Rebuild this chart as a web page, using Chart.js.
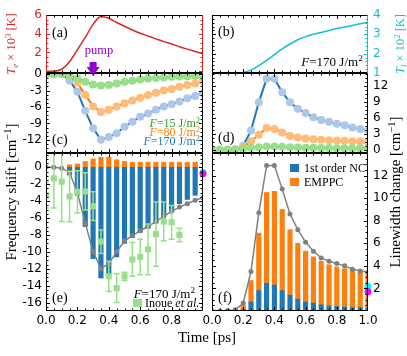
<!DOCTYPE html>
<html>
<head>
<meta charset="utf-8">
<script src="https://cdn.jsdelivr.net/npm/chart.js@4.4.1/dist/chart.umd.min.js"></script>
<style>
  html, body { margin:0; padding:0; background:#fff; }
  #wrap { position:relative; width:407px; height:356px; overflow:hidden; }
  #wrap canvas { position:absolute; left:0; top:0; }
</style>
</head>
<body>
<div id="wrap">
  <canvas id="pa" width="407" height="356"></canvas>
  <canvas id="pb" width="407" height="356"></canvas>
  <canvas id="pc" width="407" height="356"></canvas>
  <canvas id="pd" width="407" height="356"></canvas>
  <canvas id="pe" width="407" height="356"></canvas>
  <canvas id="pf" width="407" height="356"></canvas>
</div>
<script>
/* ---- data (ps, K x1e3 / x1e2, cm^-1) ---- */
const times = [0,0.05,0.1,0.15,0.2,0.25,0.3,0.35,0.4,0.45,0.5,0.55,0.6,0.65,0.7,0.75,0.8,0.85,0.9,0.95,1.0];
const elecTemp = [0,0,0.2,1.0,2.3,3.6,5.0,5.85,5.65,5.2,4.8,4.4,4.05,3.75,3.45,3.15,2.9,2.6,2.35,2.1,1.85];
const lattTemp = [1,1,1,1,1.03,1.15,1.38,1.65,1.95,2.25,2.5,2.72,2.88,3.0,3.1,3.2,3.3,3.38,3.46,3.55,3.63];

const shift15  = [0,0,0,-0.2,-0.8,-1.4,-1.9,-2.1,-2.0,-1.7,-1.4,-1.2,-1.0,-0.8,-0.7,-0.6,-0.5,-0.45,-0.4,-0.35,-0.3];
const shift80  = [0,0,0,-0.3,-1.6,-3.8,-5.9,-6.9,-6.5,-5.9,-5.3,-4.8,-4.3,-3.8,-3.4,-3.0,-2.7,-2.3,-2.0,-1.7,-1.3];
const shift170 = [0,0,0,-1.2,-3.2,-6.7,-9.9,-12.0,-11.5,-10.8,-9.6,-8.7,-7.8,-7.2,-6.5,-5.9,-5.5,-5.0,-4.4,-4.0,-3.5];

const width15  = [0,0,0,0,0.2,0.4,0.5,0.6,0.6,0.55,0.5,0.45,0.4,0.4,0.35,0.35,0.3,0.3,0.3,0.3,0.3];
const width80  = [0,0,0,0,0.5,1.6,2.8,4.1,3.9,3.25,2.6,2.3,2.1,2.0,1.9,1.8,1.75,1.7,1.6,1.55,1.5];
const width170 = [0,0,0,0.1,0.75,3.6,8.9,13.3,13.3,10.8,8.9,7.7,6.9,6.1,5.6,5.25,4.9,4.6,4.2,3.9,3.6];

const barTimesE  = [0.15,0.2,0.25,0.3,0.35,0.4,0.45,0.5,0.55,0.6,0.65,0.7,0.75,0.8,0.85,0.9,0.95];
const ncShift    = [-0.9,-3.3,-7.0,-10.8,-13.1,-12.7,-10.6,-9.0,-8.3,-7.7,-7.2,-6.6,-5.8,-5.0,-4.3,-3.8,-3.3];
const emppcShift = [0.3,0.4,0.7,1.0,1.2,1.2,0.9,0.7,0.6,0.6,0.6,0.6,0.6,0.6,0.6,0.6,0.6];
const totalShift = [0,0,-0.1,-0.6,-3.0,-6.6,-10.0,-12.0,-11.4,-10.0,-8.7,-8.1,-7.5,-7.0,-6.4,-5.8,-5.2,-4.7,-4.3,-3.9,-3.6];

const inoueTimes = [0,0.05,0.1,0.15,0.2,0.25,0.3,0.35,0.4,0.45,0.5,0.55,0.6,0.65,0.7,0.75,0.8,0.85];
const inoueShift = [-3.3,-1.3,-1.7,-3.45,-2.9,-2.85,-4.6,-8.8,-12.9,-14.3,-12.9,-10.9,-10.6,-9.7,-7.9,-6.4,-6.5,-8.0];
const inoueErr   = [1.5,3.5,4.7,3.0,2.5,2.2,1.7,1.4,1.8,1.7,0.5,2.0,2.1,3.0,3.8,2.3,2.0,0.8];

const barTimesF  = [0.2,0.25,0.3,0.35,0.4,0.45,0.5,0.55,0.6,0.65,0.7,0.75,0.8,0.85,0.9,0.95,1.0];
const ncWidth    = [0.15,0.8,1.8,2.45,2.3,1.8,1.4,1.05,0.8,0.7,0.55,0.45,0.4,0.35,0.3,0.3,0.25];
const emppcWidth = [0.35,1.9,5.1,8.05,8.3,7.2,5.8,4.95,4.5,4.1,3.85,3.65,3.5,3.4,3.3,3.15,3.1];
const totalWidth = [0,0,0.05,0.1,0.7,3.5,8.7,12.9,12.9,10.8,8.6,7.2,6.1,5.3,4.7,4.4,4.2,4.0,3.7,3.55,3.45];

const refTime = 1.0;
const refShiftCyan = -0.6, refShiftMag = -0.75;
const refWidthCyan = 2.2, refWidthMag = 1.7;
const pumpTime = 0.3;

const xTickVals = [0,0.2,0.4,0.6,0.8,1.0];
const teTicks = [0,2,4,6];
const tlTicks = [1,2,3,4];
const shiftTicksC = [-12,-9,-6,-3,0];
const widthTicksD = [0,3,6,9,12];
const shiftTicksE = [-16,-14,-12,-10,-8,-6,-4,-2,0];
const widthTicksF = [0,2,4,6,8,10,12];

/* ---- look ---- */
const RED = '#d62728', CYAN = '#17becf', BLUE = '#1f77b4', ORANGE = '#ff7f0e', GREEN = '#2ca02c';
const LBLUE = '#aec7e8', LORANGE = '#ffbb78', LGREEN = '#98df8a', GRAY = '#808080';
const MAG = '#ff00ff', AQUA = '#00ffff', PURPLE = '#9400d3';
const SERIF = '"Liberation Serif", "DejaVu Serif", serif';
const tickFont = { family: '"DejaVu Sans", sans-serif', size: 12 };

// panel rectangles (plot areas)
const BOX = {
  pa: { l:46,  r:203, t:15,  b:73 },
  pb: { l:212, r:368, t:15,  b:73 },
  pc: { l:46,  r:203, t:73,  b:153 },
  pd: { l:212, r:368, t:73,  b:153 },
  pe: { l:46,  r:203, t:153, b:311 },
  pf: { l:212, r:368, t:153, b:311 }
};

const FRAME = {
  pa: { xMajor: xTickVals, xMinor: 0.05, yMajor: teTicks, yMinor: 0.5, left: RED, right: RED },
  pb: { xMajor: xTickVals, xMinor: 0.05, yMajor: tlTicks, yMinor: 0.2, right: CYAN },
  pc: { xMajor: xTickVals, xMinor: 0.05, yMajor: shiftTicksC, yMinor: 0.75 },
  pd: { xMajor: xTickVals, xMinor: 0.05, yMajor: widthTicksD, yMinor: 0.75 },
  pe: { xMajor: xTickVals, xMinor: 0.05, yMajor: shiftTicksE, yMinor: 0.5 },
  pf: { xMajor: xTickVals, xMinor: 0.05, yMajor: widthTicksF, yMinor: 0.5 }
};

const pts = (xs, ys) => xs.map((x, i) => ({ x, y: ys[i] }));

// spines + inward ticks on all four sides
const framePlugin = {
  id: 'frame',
  afterDatasetsDraw(chart){
    const o = FRAME[chart.canvas.id];
    const { ctx, chartArea: a } = chart;
    const sx = chart.scales.x, sy = chart.scales.y;
    const l = Math.round(a.left) + 0.5, r = Math.round(a.right) - 0.5;
    const t = Math.round(a.top) + 0.5, b = Math.round(a.bottom) - 0.5;
    const col = side => o[side] || '#000';
    const seg = (x1, y1, x2, y2, c) => {
      ctx.strokeStyle = c; ctx.beginPath(); ctx.moveTo(x1, y1); ctx.lineTo(x2, y2); ctx.stroke();
    };
    const minors = (s, step) => {
      const out = [];
      for(let k = Math.ceil(s.min/step - 1e-6); k*step <= s.max + 1e-6; k++) out.push(k*step);
      return out;
    };
    ctx.save();
    ctx.lineWidth = 1;
    const xs = minors(sx, o.xMinor).map(v => [v, 2]).concat(o.xMajor.map(v => [v, 3.5]));
    xs.forEach(([v, len]) => {
      const p = Math.round(sx.getPixelForValue(v)) + 0.5;
      if(p < l || p > r) return;
      seg(p, b, p, b - len, col('bottom'));
      seg(p, t, p, t + len, col('top'));
    });
    const ys = minors(sy, o.yMinor).map(v => [v, 2]).concat(o.yMajor.map(v => [v, 3.5]));
    ys.forEach(([v, len]) => {
      const p = Math.round(sy.getPixelForValue(v)) + 0.5;
      if(p < t || p > b) return;
      seg(l, p, l + len, p, col('left'));
      seg(r, p, r - len, p, col('right'));
    });
    seg(l, t, r, t, col('top'));
    seg(l, b, r, b, col('bottom'));
    seg(l, t, l, b, col('left'));
    seg(r, t, r, b, col('right'));
    ctx.restore();
  }
};
Chart.register(framePlugin);

// text with italic / sub / sup pieces; y is the vertical middle
function rich(ctx, parts, x, y, size, color, align, rot){
  const fontFor = st => {
    const small = st.includes('_') || st.includes('^');
    return (st.includes('i') ? 'italic ' : '') + (small ? size*0.7 : size) + 'px ' + SERIF;
  };
  ctx.save();
  ctx.translate(x, y);
  if(rot) ctx.rotate(rot);
  ctx.fillStyle = color;
  ctx.textBaseline = 'alphabetic';
  ctx.textAlign = 'left';
  let w = 0;
  parts.forEach(([s, st]) => { ctx.font = fontFor(st); w += ctx.measureText(s).width; });
  let cx = align === 'center' ? -w/2 : align === 'right' ? -w : 0;
  parts.forEach(([s, st]) => {
    ctx.font = fontFor(st);
    const dy = st.includes('^') ? -size*0.38 : st.includes('_') ? size*0.22 : 0;
    ctx.fillText(s, cx, dy + size*0.35);
    cx += ctx.measureText(s).width;
  });
  ctx.restore();
}
const fluence = n => [['F','i'], ['=' + n + ' J/m',''], ['2','^']];

function baseOptions(id, o){
  const box = BOX[id], yw = 36, xh = 22;
  return {
    responsive: false,
    animation: false,
    events: [],
    devicePixelRatio: 1,
    layout: { autoPadding: false, padding: {
      left: box.l - (o.yPos === 'left' ? yw : 0),
      right: 407 - box.r - (o.yPos === 'right' ? yw : 0),
      top: box.t,
      bottom: 356 - box.b - (o.xLabels ? xh : 0)
    }},
    plugins: { legend: { display:false }, tooltip: { enabled:false } },
    scales: {
      x: {
        type: 'linear', min: 0, max: 1, offset: false, stacked: !!o.stacked,
        display: !!o.xLabels,
        grid: { display:false, drawTicks:false }, border: { display:false },
        afterBuildTicks: s => { s.ticks = xTickVals.map(v => ({ value: v })); },
        afterFit: s => { s.height = o.xLabels ? xh : 0; },
        ticks: { font: tickFont, color: '#000', padding: 3, autoSkip: false, maxRotation: 0,
                 callback: o.xCb || (v => v.toFixed(1)) }
      },
      y: {
        type: 'linear', position: o.yPos, min: o.yMin, max: o.yMax, stacked: !!o.stacked,
        grid: { display:false, drawTicks:false }, border: { display:false },
        afterBuildTicks: s => { s.ticks = o.yTicks.map(v => ({ value: v })); },
        afterFit: s => { s.width = yw; },
        ticks: { font: tickFont, color: o.yColor || '#000', padding: o.yPos === 'right' ? 5 : 4,
                 autoSkip: false, callback: o.yCb || (v => String(v)) }
      }
    }
  };
}

const lineSet = (xs, ys, line, face, label) => ({
  type: 'line', label, data: pts(xs, ys), borderColor: line, borderWidth: 2,
  pointRadius: 4, pointBackgroundColor: face, pointBorderWidth: 0
});
const dotSet = (x, y, color, order, stack) => ({
  type: 'line', data: [{ x, y }], showLine: false, pointRadius: 3.5,
  pointBackgroundColor: color, pointBorderWidth: 0, clip: false, order, stack
});

/* (a) electron temperature */
new Chart(document.getElementById('pa'), {
  type: 'line',
  data: { datasets: [{ data: pts(times, elecTemp), borderColor: RED, borderWidth: 1.5,
                       pointRadius: 0, cubicInterpolationMode: 'monotone' }] },
  options: baseOptions('pa', { yPos:'left', yMin:-0.2, yMax:6, yTicks: teTicks, yColor: RED,
                               yCb: v => v === 0 ? '' : String(v) }),
  plugins: [{ id:'notesA', afterDraw(c){
    const ctx = c.ctx, a = c.chartArea;
    rich(ctx, [['(a)','']], a.left + 6, a.top + 17, 14, '#000', 'left');
    const px = c.scales.x.getPixelForValue(pumpTime);
    rich(ctx, [['pump','']], px + 6, 50, 12.5, PURPLE, 'center');
    ctx.save();
    ctx.fillStyle = PURPLE;
    ctx.fillRect(px - 3.5, 62, 7, 5);
    ctx.beginPath(); ctx.moveTo(px - 6.5, 67); ctx.lineTo(px + 6.5, 67); ctx.lineTo(px, 76); ctx.closePath(); ctx.fill();
    ctx.restore();
    rich(ctx, [['T','i'], ['e','i_'], [' \u00d7 10',''], ['3','^'], [' [K]','']], 11, (a.top + a.bottom)/2, 12.5, RED, 'center', -Math.PI/2);
  }}]
});

/* (b) lattice temperature */
new Chart(document.getElementById('pb'), {
  type: 'line',
  data: { datasets: [{ data: pts(times, lattTemp), borderColor: CYAN, borderWidth: 1.5,
                       pointRadius: 0, cubicInterpolationMode: 'monotone' }] },
  options: baseOptions('pb', { yPos:'right', yMin:1, yMax:4, yTicks: tlTicks, yColor: CYAN }),
  plugins: [{ id:'notesB', afterDraw(c){
    const ctx = c.ctx, a = c.chartArea;
    rich(ctx, [['(b)','']], a.left + 6, a.top + 16, 14, '#000', 'left');
    rich(ctx, fluence(170), a.left + 120, a.top + 46, 13, '#000', 'center');
    rich(ctx, [['T','i'], ['l','i_'], [' \u00d7 10',''], ['2','^'], [' [K]','']], 400, (a.top + a.bottom)/2, 12.5, CYAN, 'center', -Math.PI/2);
  }}]
});

/* (c) frequency shift vs fluence */
new Chart(document.getElementById('pc'), {
  type: 'line',
  data: { datasets: [
    lineSet(times, shift15, GREEN, LGREEN, 'F=15'),
    lineSet(times, shift80, ORANGE, LORANGE, 'F=80'),
    lineSet(times, shift170, BLUE, LBLUE, 'F=170')
  ]},
  options: baseOptions('pc', { yPos:'left', yMin:-14.4, yMax:0.2, yTicks: shiftTicksC }),
  plugins: [{ id:'notesC', afterDraw(c){
    const ctx = c.ctx, a = c.chartArea;
    rich(ctx, [['(c)','']], a.left + 6, a.top + 66, 14, '#000', 'left');
    rich(ctx, fluence(15), a.right - 3, a.top + 50, 12, GREEN, 'right');
    rich(ctx, fluence(80), a.right - 3, a.top + 59, 12, ORANGE, 'right');
    rich(ctx, fluence(170), a.right - 3, a.top + 68, 12, BLUE, 'right');
  }}]
});

/* (d) linewidth change vs fluence */
new Chart(document.getElementById('pd'), {
  type: 'line',
  data: { datasets: [
    lineSet(times, width15, GREEN, LGREEN, 'F=15'),
    lineSet(times, width80, ORANGE, LORANGE, 'F=80'),
    lineSet(times, width170, BLUE, LBLUE, 'F=170')
  ]},
  options: baseOptions('pd', { yPos:'right', yMin:-0.6, yMax:14.4, yTicks: widthTicksD }),
  plugins: [{ id:'notesD', afterDraw(c){
    const ctx = c.ctx, a = c.chartArea;
    rich(ctx, [['(d)','']], a.left + 6, a.top + 64, 14, '#000', 'left');
  }}]
});

/* error bars for the measured points in (e) */
const errPlugin = {
  id: 'errs',
  beforeDatasetDraw(c, args){
    if(c.data.datasets[args.index].label !== 'Inoue et al.') return;
    const ctx = c.ctx, a = c.chartArea, sx = c.scales.x, sy = c.scales.y;
    ctx.save();
    ctx.beginPath(); ctx.rect(a.left, a.top, a.right - a.left, a.bottom - a.top); ctx.clip();
    ctx.strokeStyle = LGREEN; ctx.lineWidth = 1.5;
    inoueTimes.forEach((t, i) => {
      const px = sx.getPixelForValue(t);
      const y1 = sy.getPixelForValue(inoueShift[i] + inoueErr[i]);
      const y2 = sy.getPixelForValue(inoueShift[i] - inoueErr[i]);
      ctx.beginPath();
      ctx.moveTo(px, y1); ctx.lineTo(px, y2);
      ctx.moveTo(px - 3, y1); ctx.lineTo(px + 3, y1);
      ctx.moveTo(px - 3, y2); ctx.lineTo(px + 3, y2);
      ctx.stroke();
    });
    ctx.restore();
  }
};

/* (e) frequency shift decomposition */
new Chart(document.getElementById('pe'), {
  type: 'bar',
  data: { datasets: [
    { type:'line', label:'Inoue et al.', data: pts(inoueTimes, inoueShift), showLine:false,
      pointStyle:'rect', pointRadius:4.3, pointBackgroundColor: LGREEN, pointBorderWidth:0, order:0, stack:'s1' },
    dotSet(refTime, refShiftMag, MAG, -2, 's2'),
    dotSet(refTime, refShiftCyan, AQUA, -1, 's3'),
    { type:'line', label:'total', data: pts(times, totalShift), borderColor: GRAY, borderWidth:1.5,
      pointRadius:2.5, pointBackgroundColor: GRAY, pointBorderWidth:0, order:1, stack:'s4' },
    { type:'bar', label:'1st order NC', data: pts(barTimesE, ncShift), backgroundColor: BLUE, barThickness:4.5, order:2 },
    { type:'bar', label:'EMPPC', data: pts(barTimesE, emppcShift), backgroundColor: ORANGE, barThickness:4.5, order:3 }
  ]},
  options: baseOptions('pe', { yPos:'left', yMin:-17, yMax:1.7, yTicks: shiftTicksE, xLabels:true, stacked:true,
                               xCb: v => v > 0.95 ? '' : v.toFixed(1) }),
  plugins: [errPlugin, { id:'notesE', afterDraw(c){
    const ctx = c.ctx, a = c.chartArea;
    rich(ctx, [['(e)','']], a.left + 6, a.bottom - 14, 14, '#000', 'left');
    rich(ctx, fluence(170), a.right - 8, a.bottom - 18, 13, '#000', 'right');
    ctx.fillStyle = LGREEN;
    ctx.fillRect(a.right - 70, a.bottom - 12, 9, 8);
    rich(ctx, [['Inoue ',''], ['et al.','i']], a.right - 58, a.bottom - 8, 12, '#000', 'left');
    rich(ctx, [['Frequency shift [cm',''], ['\u22121','^'], [']','']], 11, (BOX.pc.t + BOX.pe.b)/2, 15, '#000', 'center', -Math.PI/2);
    rich(ctx, [['Time [ps]','']], (BOX.pe.l + BOX.pf.r)/2, 337, 15, '#000', 'center');
  }}]
});

/* (f) linewidth decomposition */
new Chart(document.getElementById('pf'), {
  type: 'bar',
  data: { datasets: [
    dotSet(refTime, refWidthMag, MAG, -2, 's2'),
    dotSet(refTime, refWidthCyan, AQUA, -1, 's3'),
    { type:'line', label:'total', data: pts(times, totalWidth), borderColor: GRAY, borderWidth:1.5,
      pointRadius:2.5, pointBackgroundColor: GRAY, pointBorderWidth:0, order:1, stack:'s4' },
    { type:'bar', label:'1st order NC', data: pts(barTimesF, ncWidth), backgroundColor: BLUE, barThickness:4.5, order:2 },
    { type:'bar', label:'EMPPC', data: pts(barTimesF, emppcWidth), backgroundColor: ORANGE, barThickness:4.5, order:3 }
  ]},
  options: baseOptions('pf', { yPos:'right', yMin:0, yMax:14, yTicks: widthTicksF, xLabels:true, stacked:true,
                               yCb: v => v === 0 ? '' : String(v) }),
  plugins: [{ id:'notesF', afterDraw(c){
    const ctx = c.ctx, a = c.chartArea;
    rich(ctx, [['(f)','']], a.left + 6, a.bottom - 14, 14, '#000', 'left');
    ctx.fillStyle = BLUE;   ctx.fillRect(a.left + 78, a.top + 11, 9, 8);
    ctx.fillStyle = ORANGE; ctx.fillRect(a.left + 78, a.top + 25, 9, 8);
    rich(ctx, [['1st order NC','']], a.left + 92, a.top + 15, 12, '#000', 'left');
    rich(ctx, [['EMPPC','']], a.left + 92, a.top + 29, 12, '#000', 'left');
    rich(ctx, [['Linewidth change [cm',''], ['\u22121','^'], [']','']], 395, (BOX.pd.t + BOX.pf.b)/2, 15, '#000', 'center', -Math.PI/2);
  }}]
});
</script>
</body>
</html>
